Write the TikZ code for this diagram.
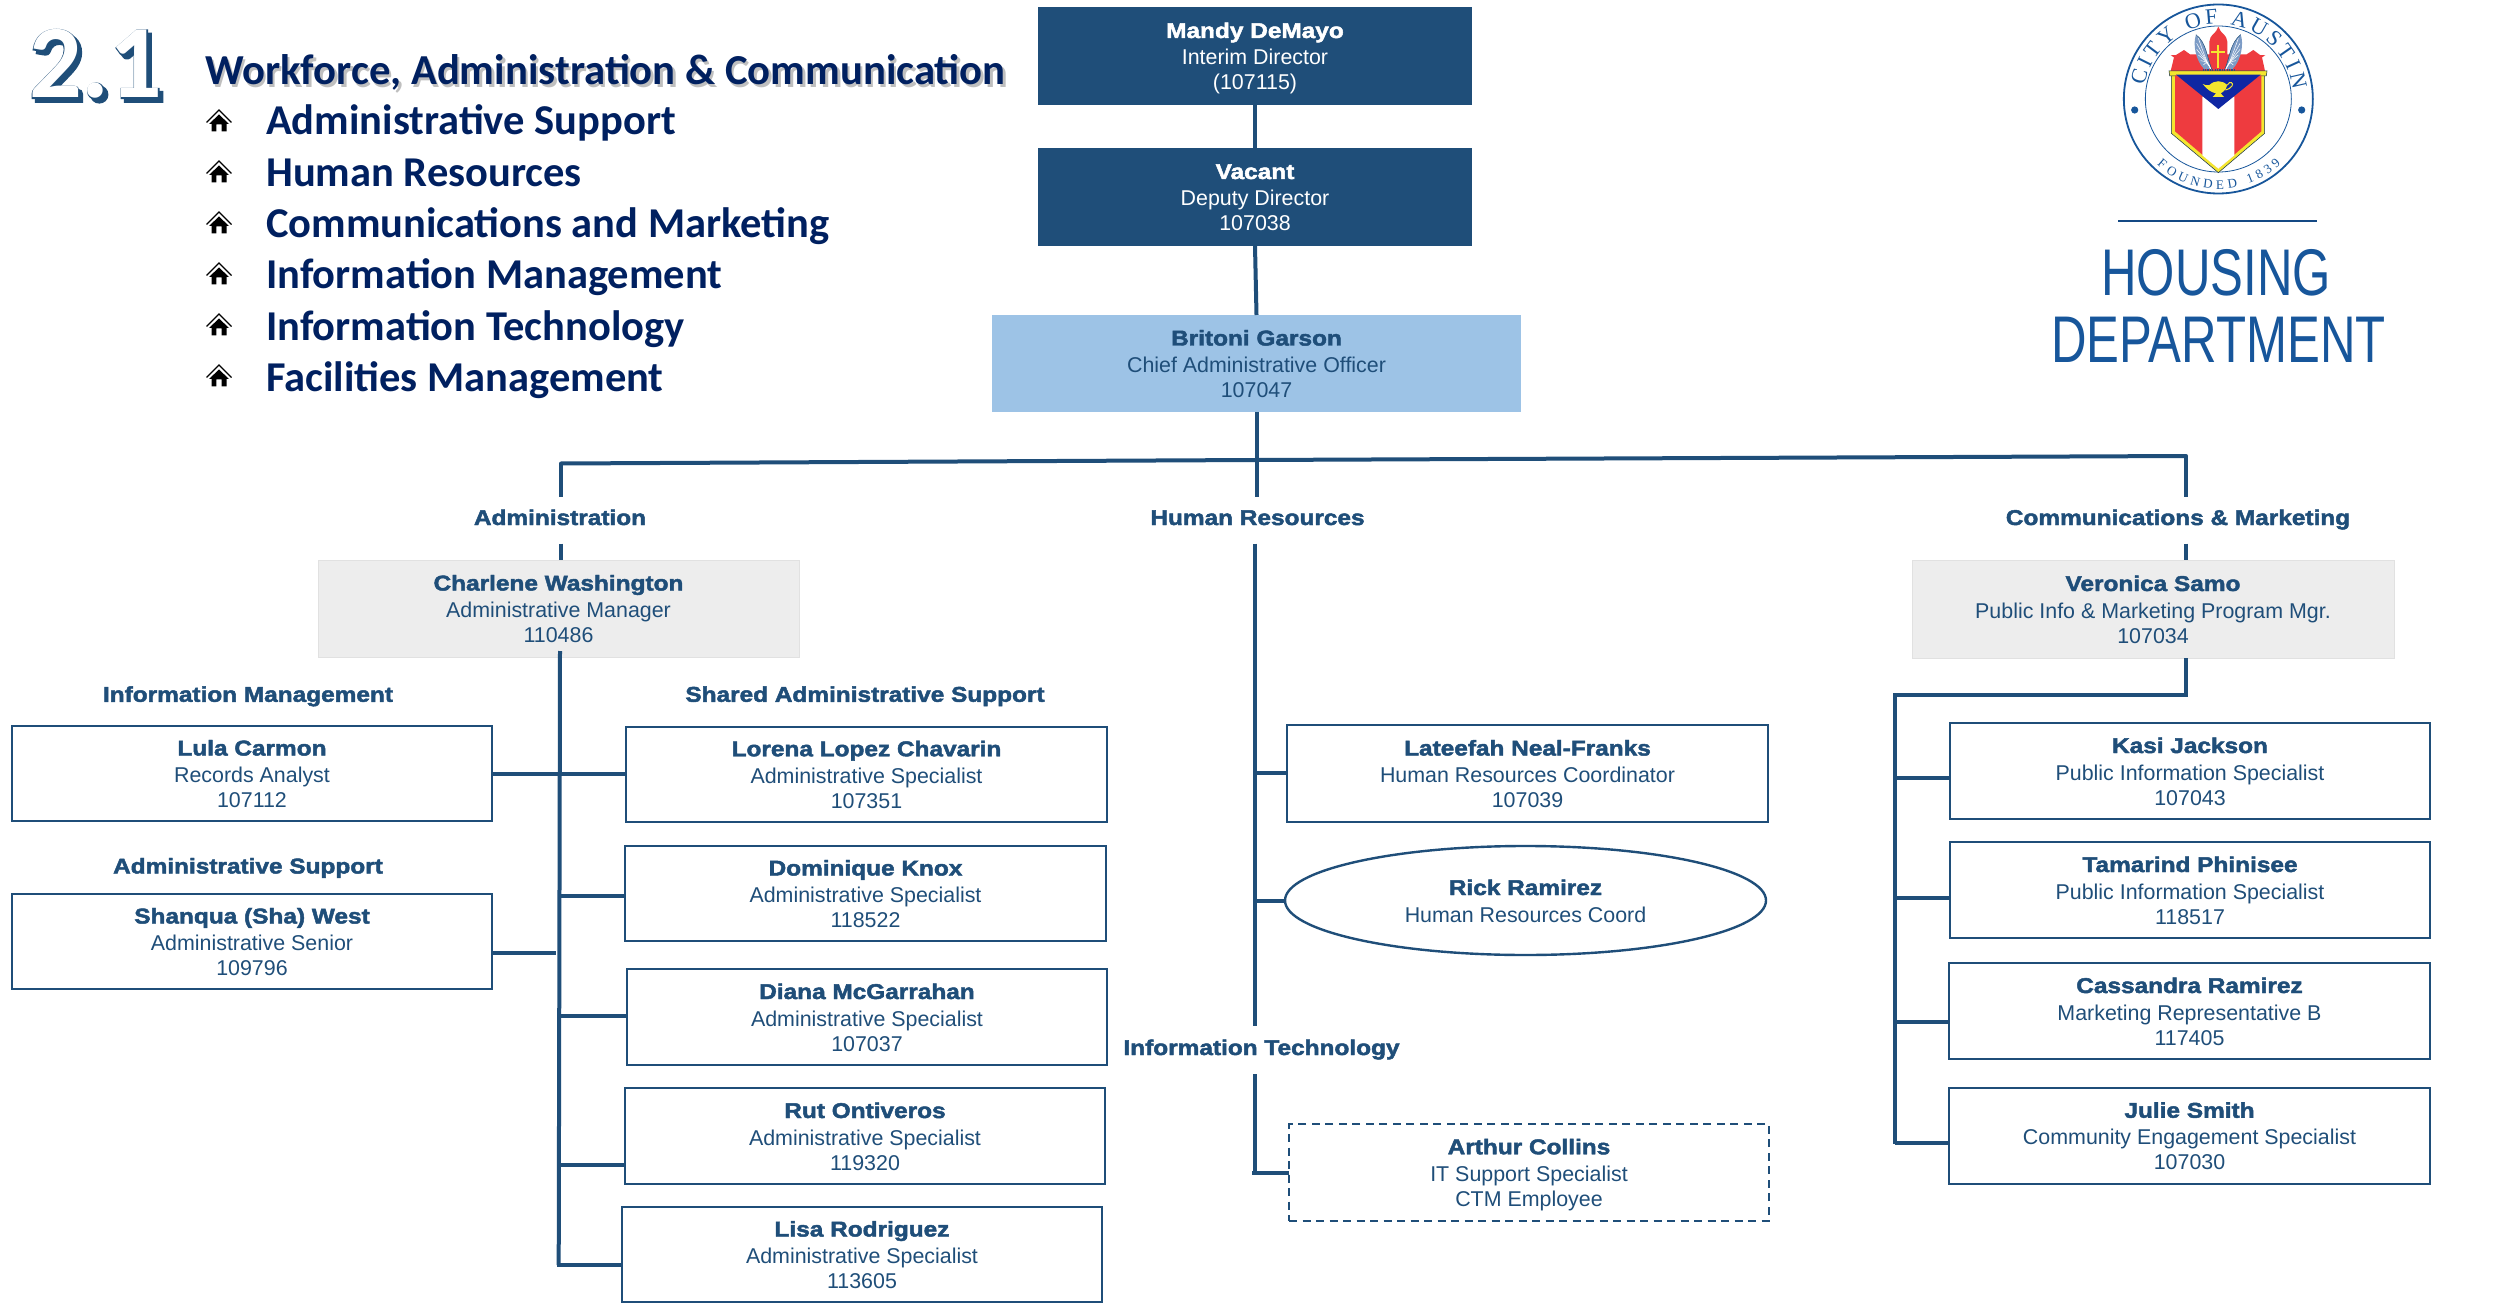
\documentclass[tikz,border=0pt]{standalone}
\usepackage{fontspec}
\usetikzlibrary{shapes.geometric,decorations.text}
\setmainfont{Liberation Sans}
\newfontfamily\namefont[BoldFeatures={FakeStretch=1.14,FakeBold=2.2}]{Liberation Sans}
\newfontfamily\headfont{Carlito}
\newfontfamily\outfont[BoldFeatures={FakeBold=2.6}]{Carlito}
\newfontfamily\linefont[BoldFeatures={FakeBold=2}]{Carlito}
\newfontfamily\hdfont[FakeStretch=0.745]{Liberation Sans}
\newfontfamily\sealfont{Liberation Serif}
\definecolor{hblue}{HTML}{1F4E79}
\definecolor{hlight}{HTML}{9DC3E6}
\definecolor{hgray}{HTML}{EDEDED}
\definecolor{hnavy}{HTML}{002060}
\definecolor{hlogo}{HTML}{17569B}
\definecolor{hred}{HTML}{EE3B3F}
\definecolor{hyel}{HTML}{F4E62F}
\definecolor{hwing}{HTML}{7D9CC6}
\newcommand{\psn}[3]{\rule{0pt}{22pt}{\namefont\bfseries #1}\\[1pt]#2\\[-1pt]\rule[-6pt]{0pt}{6pt}#3}
\newcommand{\pbox}[7]{\node[#2,minimum width={#5-#3},minimum height={#6-#4}] (#1) at ({(#3+#5)/2},{(#4+#6)/2}) {#7};}
\newcommand{\hhouse}[2]{\begin{scope}[shift={(#1,#2)}]
\draw[black,line width=1.3pt] (-12.5,2)--(0,-10.5)--(12.5,2);
\fill[black] (0,-6)--(10,3.5)--(7.5,3.5)--(7.5,11)--(2.6,11)--(2.6,4)--(-2.6,4)--(-2.6,11)--(-7.5,11)--(-7.5,3.5)--(-10,3.5)--cycle;
\end{scope}}
\tikzset{
 x=1pt,y=-1pt,
 base/.style={inner sep=0pt,outer sep=0pt,align=center,font=\fontsize{21.4}{26}\selectfont,text=hblue},
 dark/.style={base,fill=hblue,text=white},
 lightb/.style={base,fill=hlight},
 grayb/.style={base,fill=hgray,draw=hgray!95!black,line width=.8pt},
 plain/.style={base,draw=hblue,line width=2pt,fill=white},
 dash box/.style={base,draw=hblue,line width=2pt,dash pattern=on 8pt off 5.5pt},
 oval/.style={base,ellipse,draw=hblue,line width=2.4pt,fill=white},
 lab/.style={inner sep=0pt,outer sep=0pt,font=\fontsize{21.4}{26}\namefont\bfseries\selectfont,text=hblue,text height=15pt,text depth=5pt},
 conn/.style={draw=hblue,line width=4pt},
 head/.style={inner sep=0pt,anchor=base west,font=\fontsize{42.7}{50}\headfont\bfseries\selectfont,text=hnavy},
 shad/.style={inner sep=0pt,anchor=base west,font=\fontsize{42.7}{50}\headfont\bfseries\selectfont,text=black!45,opacity=.55},
 item/.style={inner sep=0pt,anchor=base west,font=\fontsize{42.5}{50}\headfont\bfseries\selectfont,text=hnavy},
}
\begin{document}
\begin{tikzpicture}
\useasboundingbox (0,0) rectangle (2509,1305);
\fill[white] (0,0) rectangle (2509,1305);
% number
\node[inner sep=0pt,anchor=base west,font=\fontsize{104}{110}\outfont\bfseries\selectfont,text=hblue] (numshadow) at (32.5,101.5) {2.1};
\node[inner sep=0pt,anchor=base west,font=\fontsize{104}{110}\linefont\bfseries\selectfont,text=hblue] (numline) at (29,98) {2.1};
\node[inner sep=0pt,anchor=base west,font=\fontsize{104}{110}\headfont\bfseries\selectfont,text=white] (numfill) at (29,98) {2.1};
% heading
\node[shad] (headshadow) at (207.5,87.5) {Workforce, Administration \& Communication};
\node[head] (heading) at (205,85) {Workforce, Administration \& Communication};
\node[item] (i1) at (266,135) {Administrative Support};
\node[item] (i2) at (266,186.5) {Human Resources};
\node[item] (i3) at (266,238) {Communications and Marketing};
\node[item] (i4) at (266,289) {Information Management};
\node[item] (i5) at (266,340.5) {Information Technology};
\node[item] (i6) at (266,392) {Facilities Management};
\hhouse{219}{120.5}\hhouse{219}{171.5}\hhouse{219}{222.5}\hhouse{219}{273.5}\hhouse{219}{324.5}\hhouse{219}{375.5}
% boxes
\pbox{mandy}{dark}{1038}{7}{1472}{105}{\psn{Mandy DeMayo}{Interim Director}{(107115)}}
\pbox{vacant}{dark}{1038}{148}{1472}{246}{\psn{Vacant}{Deputy Director}{107038}}
\pbox{britoni}{lightb}{992}{315}{1521}{412}{\psn{Britoni Garson}{Chief Administrative Officer}{107047}}
\pbox{charlene}{grayb}{318}{560}{799}{657}{\psn{Charlene Washington}{Administrative Manager}{110486}}
\pbox{veronica}{grayb}{1912}{560}{2394}{658}{\psn{Veronica Samo}{Public Info \& Marketing Program Mgr.}{107034}}
\pbox{lula}{plain}{12}{726}{492}{821}{\psn{Lula Carmon}{Records Analyst}{107112}}
\pbox{shanqua}{plain}{12}{894}{492}{989}{\psn{Shanqua (Sha) West}{Administrative Senior}{109796}}
\pbox{lorena}{plain}{626}{726.5}{1107}{822}{\psn{Lorena Lopez Chavarin}{Administrative Specialist}{107351}}
\pbox{dominique}{plain}{625}{846}{1106}{941}{\psn{Dominique Knox}{Administrative Specialist}{118522}}
\pbox{diana}{plain}{627}{969}{1107}{1065}{\psn{Diana McGarrahan}{Administrative Specialist}{107037}}
\pbox{rut}{plain}{625}{1088}{1105}{1184}{\psn{Rut Ontiveros}{Administrative Specialist}{119320}}
\pbox{lisa}{plain}{622}{1207}{1102}{1302}{\psn{Lisa Rodriguez}{Administrative Specialist}{113605}}
\pbox{lateefah}{plain}{1287}{725}{1768}{822}{\psn{Lateefah Neal-Franks}{Human Resources Coordinator}{107039}}
\pbox{rick}{oval}{1285}{846}{1766}{955}{\rule{0pt}{22pt}{\namefont\bfseries Rick Ramirez}\\[1pt]\rule[-6pt]{0pt}{6pt}Human Resources Coord}
\pbox{arthur}{dash box}{1289}{1124}{1769}{1220.5}{\psn{Arthur Collins}{IT Support Specialist}{CTM Employee}}
\pbox{kasi}{plain}{1950}{723}{2430}{819}{\psn{Kasi Jackson}{Public Information Specialist}{107043}}
\pbox{tamarind}{plain}{1950}{842}{2430}{938}{\psn{Tamarind Phinisee}{Public Information Specialist}{118517}}
\pbox{cassandra}{plain}{1949}{963}{2430}{1059}{\psn{Cassandra Ramirez}{Marketing Representative B}{117405}}
\pbox{julie}{plain}{1949}{1088}{2430}{1183.5}{\psn{Julie Smith}{Community Engagement Specialist}{107030}}
% labels
\node[lab,minimum height=47pt] (ladm) at (560,520) {Administration};
\node[lab,minimum height=47pt] (lhr) at (1257.5,520) {Human Resources};
\node[lab,minimum height=47pt] (lcom) at (2178,520) {Communications \& Marketing};
\node[lab] (lim) at (248,696.8) {Information Management};
\node[lab] (lsas) at (865,696.8) {Shared Administrative Support};
\node[lab] (las) at (248,868.5) {Administrative Support};
\node[lab,minimum height=48pt] (lit) at (1261.5,1050) {Information Technology};
% named points
\coordinate (ctop) at (1255,460);
\coordinate (atop) at (561,463.5);
\coordinate (rtop) at (2186,456);
\coordinate (abot) at (558.7,1265);
\coordinate (atr) at (560,651);
\coordinate (hx) at (1254.5,0);
\coordinate (rcorner) at (2186,695);
\coordinate (lcorner) at (1895,695);
\coordinate (lbot) at (1895,1144);
% connectors
\draw[conn] (mandy.south) -- (vacant.north);
\draw[conn] (vacant.south) -- (britoni.north);
\draw[conn] (britoni.south) -- (lhr.north -| britoni.south);
\draw[conn,line cap=round] (atop) -- (ctop) -- (rtop);
\draw[conn] (atop) -- (ladm.north -| atop);
\draw[conn] (ladm.south -| atop) -- (charlene.north -| atop);
\draw[conn] (rtop) -- (lcom.north -| rtop);
\draw[conn] (lcom.south -| rtop) -- (veronica.north -| rtop);
\draw[conn] (veronica.south -| rcorner) -- (rcorner) -- (lcorner) -- (lbot);
\draw[conn] (lhr.south -| hx) -- (lit.north -| hx);
\draw[conn] (lit.south -| hx) -- (1254.5,1172.5);
\draw[conn] (atr) -- (abot);
\draw[conn] (lula.east) -- (lorena.west |- lula.east);
\draw[conn] (shanqua.east |- 0,952.5) -- (556,952.5);
\draw[conn] (dominique.west |- 0,895.5) -- (560,895.5);
\draw[conn] (diana.west |- 0,1016) -- (560,1016);
\draw[conn] (rut.west |- 0,1165) -- (559,1165);
\draw[conn] (lisa.west |- 0,1265) -- (557,1265);
\draw[conn] (lateefah.west |- 0,773) -- (1254.5,773);
\draw[conn] (rick.west) -- (rick.west -| hx);
\draw[conn] (arthur.west |- 0,1172.5) -- (1251.7,1172.5);
\draw[conn] (kasi.west |- 0,777.5) -- (1895,777.5);
\draw[conn] (tamarind.west |- 0,898) -- (1895,898);
\draw[conn] (cassandra.west |- 0,1021.5) -- (1895,1021.5);
\draw[conn] (julie.west |- 0,1143) -- (1895,1143);
% logo text
\draw[hlogo!85!black,line width=1.6pt] (2118,221) -- (2317,221);
\node[inner sep=0pt,anchor=base,font=\fontsize{66}{70}\hdfont\selectfont,text=hlogo] (housing) at (2216,296) {HOUSING};
\node[inner sep=0pt,anchor=base,font=\fontsize{66}{70}\hdfont\selectfont,text=hlogo] (department) at (2218.5,363) {DEPARTMENT};
% seal
\begin{scope}[shift={(2050,0)},x=0.33333pt,y=-0.33333pt]
\draw[hlogo,line width=1.8pt] (505,297) circle[radius=94.5pt];
\draw[hlogo,line width=.8pt] (505,297) circle[radius=73pt];
\fill[hlogo] (254,330) circle[radius=3.6pt] (755,330) circle[radius=3.6pt];
\path[decorate,decoration={text along path,text={|\fontsize{22}{22}\sealfont\color{hlogo}|CITY OF AUSTIN},text align={fit to path}}]
  (505,297) ++(170:75pt) arc[start angle=170,end angle=7,radius=75pt];
\path[decorate,decoration={text along path,text={|\fontsize{13}{13}\sealfont\color{hlogo}|FOUNDED 1839},text align={fit to path}}]
  (505,297) ++(227:90pt) arc[start angle=227,end angle=314,radius=90pt];
% building
\fill[hred] (362,213)--(372,172)--(362,166)--(378,165)--(402,150)--(420,163)--(590,163)--(610,150)--(630,165)--(646,166)--(636,172)--(645,213)--cycle;
\fill[hred] (478,213)--(478,125) .. controls (480,105) and (495,100) .. (499,92)--(505,80)--(511,92) .. controls (515,100) and (530,105) .. (532,125)--(532,213)--cycle;
% wings
\foreach \s/\o in {1/0,-1/1010}{
\begin{scope}[shift={(\o,0)},xscale=\s]
\fill[hwing] (485,207) .. controls (470,170) and (470,130) .. (438,104) .. controls (428,130) and (436,180) .. (462,207) --cycle;
\foreach \tx/\ty in {445/115,440/130,440/148,445/165,452/182,460/195}{
 \draw[white,line width=.5pt] (483,207) .. controls (470,185) .. (\tx,\ty);}
\draw[hblue,line width=.5pt] (438,104) .. controls (470,130) and (470,170) .. (485,207);
\end{scope}}
\draw[hyel,line width=2.2pt] (505,136)--(505,205) (484,156)--(526,156);
\draw[hlogo,line width=1.5pt,dash pattern=on 1.2pt off 1.2pt] (458,210)--(552,210);
% shield
\fill[hyel,draw=hblue!60!black,line width=.5pt] (364,222)--(644,222)--(644,400)--(505,518)--(364,400)--cycle;
\fill[hyel,draw=hblue!60!black,line width=.5pt] (357,213)--(651,213)--(649,228)--(359,228)--cycle;
\fill[hred] (375,226)--(634,226)--(634,394)--(505,505)--(375,394)--cycle;
\fill[white] (457,290)--(553,290)--(553,466)--(505,506)--(457,466)--cycle;
\fill[hblue!55!blue!90!black] (378,224)--(632,224)--(505,327)--cycle;
% lamp
\fill[hyel] (478,255) .. controls (495,240) and (515,240) .. (532,255) .. controls (528,272) and (515,278) .. (512,280)--(522,291)--(488,291)--(498,280) .. controls (485,278) and (470,268) .. (458,252) .. controls (465,255) and (472,258) .. (478,255)--cycle;
\draw[hyel,line width=1pt] (532,255) .. controls (540,240) and (552,250) .. (546,258) .. controls (542,265) and (534,268) .. (526,270);
\end{scope}
\end{tikzpicture}
\end{document}
